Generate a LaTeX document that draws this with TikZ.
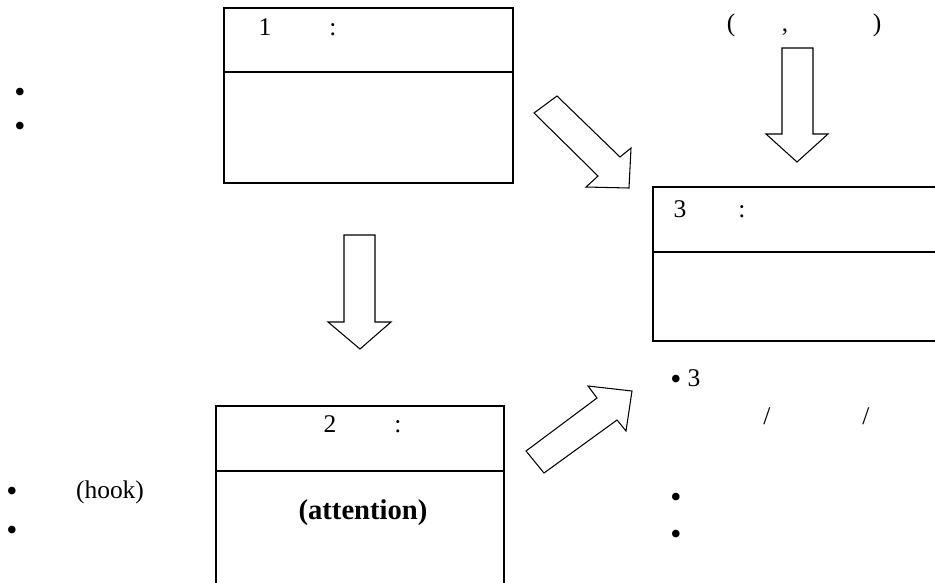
\documentclass[tikz,border=0pt]{standalone}
\usepackage{fontspec}
\setmainfont{Liberation Serif}
\usepackage{tikz}
\usetikzlibrary{positioning}

\begin{document}
\begin{tikzpicture}[
    x=0.02cm, y=-0.02cm,
    every node/.style={font=\fontsize{14.5}{17}\selectfont, inner sep=0pt, anchor=base},
    panel/.style={rectangle, draw, line width=0.8pt, minimum width=#1},
    panel/.default=5.78cm,
    hollow/.style={draw, line width=0.6pt, fill=white, line join=miter},
    tag/.style={font=\fontsize{16.3}{19}\selectfont\bfseries},
    dot/.style={font=\fontsize{18}{19}\selectfont},
]
    \useasboundingbox (0,0) rectangle (935,582);

    % stage boxes
    \node[panel, minimum height=3.5cm] (box1) at (368.5,95.5) {};
    \node[panel=5.84cm, minimum height=3.08cm] (box3) at (799,264) {};
    \node[panel=5.76cm, minimum height=3.9cm] (box2) at (360,503.5) {};
    \coordinate (cut1) at (0,72);
    \coordinate (cut3) at (0,252);
    \coordinate (cut2) at (0,471);
    \draw[line width=0.8pt] (box1.west |- cut1) -- (box1.east |- cut1);
    \draw[line width=0.8pt] (box3.west |- cut3) -- (box3.east |- cut3);
    \draw[line width=0.8pt] (box2.west |- cut2) -- (box2.east |- cut2);

    % headers
    \node (n1) at (265,35) {1};
    \node (c1) at (333,35) {:};
    \node (n3) at (680,217) {3};
    \node (c3) at (742,217) {:};
    \node (n2) at (330,432) {2};
    \node (c2) at (398,432) {:};
    \node[tag] (attn) at (363,519) {(attention)};

    % top right input
    \node (lpar) at (731,31) {(};
    \node (comma) at (785,31) {,};
    \node (rpar) at (877,31) {)};

    % left notes
    \node[dot] (la) at (20,102) {\textbullet};
    \node[dot] (lb) at (20,136) {\textbullet};
    \node[dot] (lc) at (12,501) {\textbullet};
    \node[dot] (ld) at (12,540) {\textbullet};
    \node (hook) at (110,498) {(hook)};

    % right notes
    \node[dot] (ra) at (676,389) {\textbullet};
    \node (r3) at (694,386) {3};
    \node (sa) at (767,424) {/};
    \node (sb) at (866,424) {/};
    \node[dot] (rb) at (676,507) {\textbullet};
    \node[dot] (rc) at (676,544) {\textbullet};

    % block arrows
    \draw[hollow] (782,48) -- (813,48) -- (813,134) -- (828,134) -- (797,162)
        -- (766,134) -- (782,134) -- cycle;
    \draw[hollow] (344,235) -- (375,235) -- (375,322) -- (391,322) -- (360,349)
        -- (328,322) -- (344,322) -- cycle;
    \draw[hollow] (534,113) -- (557,96) -- (620,157) -- (631,148) -- (629,188)
        -- (586,187) -- (598,176) -- cycle;
    \draw[hollow] (526,451) -- (597,398) -- (588,386) -- (632,391) -- (626,431)
        -- (617,420) -- (544,473) -- cycle;
\end{tikzpicture}
\end{document}
